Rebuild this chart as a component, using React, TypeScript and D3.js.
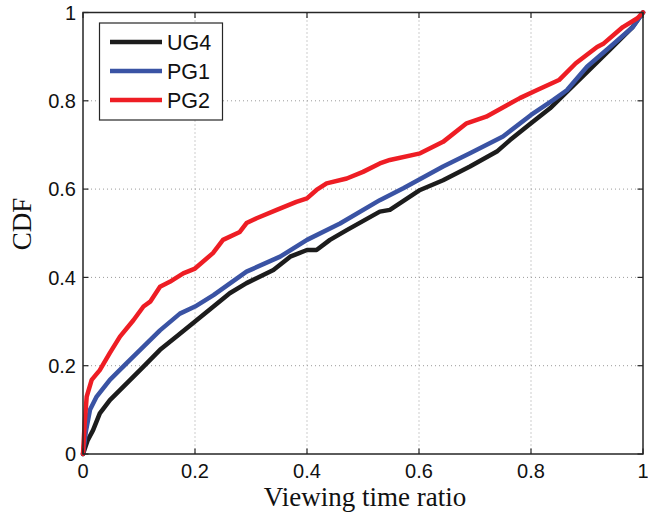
import React from "react";
import * as d3 from "d3";

const xTicks = [0, 0.2, 0.4, 0.6, 0.8, 1];
const yTicks = [0, 0.2, 0.4, 0.6, 0.8, 1];
const tickLabels = ["0", "0.2", "0.4", "0.6", "0.8", "1"];

const seriesNames = ["UG4", "PG1", "PG2"];
const seriesColors = ["#1c1c1c", "#3a53a4", "#ee1d24"];

const ug4X = [0, 0.008, 0.018, 0.03, 0.048, 0.078, 0.108, 0.1375, 0.167, 0.2, 0.233, 0.262, 0.292, 0.34, 0.37, 0.4, 0.417, 0.441, 0.471, 0.53, 0.548, 0.602, 0.643, 0.691, 0.739, 0.7625, 0.8, 0.834, 0.858, 0.9, 0.94, 0.98, 1];
const ug4Y = [0, 0.03, 0.054, 0.092, 0.122, 0.16, 0.198, 0.236, 0.266, 0.3, 0.334, 0.364, 0.387, 0.417, 0.447, 0.462, 0.462, 0.485, 0.507, 0.549, 0.553, 0.598, 0.62, 0.651, 0.685, 0.711, 0.749, 0.783, 0.813, 0.865, 0.915, 0.965, 1];

const pg1X = [0, 0.005, 0.0125, 0.0244, 0.048, 0.078, 0.108, 0.1375, 0.173, 0.2, 0.233, 0.292, 0.352, 0.4, 0.459, 0.53, 0.572, 0.643, 0.691, 0.75, 0.8, 0.84, 0.864, 0.9, 0.941, 0.982, 1];
const pg1Y = [0, 0.05, 0.1, 0.13, 0.168, 0.206, 0.243, 0.28, 0.318, 0.334, 0.36, 0.413, 0.447, 0.485, 0.522, 0.575, 0.602, 0.651, 0.681, 0.719, 0.768, 0.802, 0.824, 0.877, 0.922, 0.967, 1];

const pg2X = [0, 0.003, 0.0066, 0.0155, 0.03, 0.048, 0.066, 0.09, 0.108, 0.12, 0.1375, 0.155, 0.179, 0.2, 0.232, 0.25, 0.28, 0.292, 0.31, 0.346, 0.381, 0.4, 0.417, 0.435, 0.471, 0.5, 0.53, 0.548, 0.602, 0.643, 0.685, 0.72, 0.757, 0.78, 0.81, 0.85, 0.88, 0.918, 0.93, 0.964, 0.99, 1];
const pg2Y = [0, 0.07, 0.13, 0.168, 0.19, 0.229, 0.266, 0.303, 0.334, 0.345, 0.379, 0.39, 0.409, 0.42, 0.455, 0.485, 0.503, 0.523, 0.534, 0.553, 0.571, 0.579, 0.598, 0.613, 0.624, 0.639, 0.658, 0.666, 0.681, 0.707, 0.749, 0.764, 0.79, 0.806, 0.824, 0.847, 0.885, 0.922, 0.93, 0.967, 0.987, 1];

const seriesX = [ug4X, pg1X, pg2X];
const seriesY = [ug4Y, pg1Y, pg2Y];

const W = 648, H = 518;
const L = 83, R = 643, T = 12.5, B = 454;

export default function App() {
  const x = d3.scaleLinear().domain([0, 1]).range([L, R]);
  const y = d3.scaleLinear().domain([0, 1]).range([B, T]);
  const line = d3.line<[number, number]>().x(d => x(d[0])).y(d => y(d[1]));
  const tickLen = 5.5;
  const axisColor = "#262626";
  const tickFont = "'Liberation Sans', Arial, sans-serif";
  const serif = "'Liberation Serif', 'Times New Roman', serif";

  return (
    <svg width={W} height={H} style={{ position: "absolute", left: 0, top: 0, background: "#fff" }}>
      <rect x={0} y={0} width={W} height={H} fill="#fff" />
      {/* grid */}
      {xTicks.slice(1, -1).map((t, i) => (
        <line key={"gx" + i} x1={x(t)} x2={x(t)} y1={T} y2={B} stroke="#9a9a9a" strokeWidth={1} strokeDasharray="1,3" />
      ))}
      {yTicks.slice(1, -1).map((t, i) => (
        <line key={"gy" + i} x1={L} x2={R} y1={y(t)} y2={y(t)} stroke="#9a9a9a" strokeWidth={1} strokeDasharray="1,3" />
      ))}
      {/* series */}
      {seriesNames.map((n, i) => (
        <path key={n} d={line(seriesX[i].map((v, j) => [v, seriesY[i][j]] as [number, number])) || ""}
          fill="none" stroke={seriesColors[i]} strokeWidth={4.5} strokeLinejoin="round" strokeLinecap="round" />
      ))}
      {/* box */}
      <rect x={L} y={T} width={R - L} height={B - T} fill="none" stroke={axisColor} strokeWidth={1.5} />
      {/* ticks */}
      {xTicks.map((t, i) => (
        <g key={"tx" + i}>
          <line x1={x(t)} x2={x(t)} y1={B} y2={B - tickLen} stroke={axisColor} strokeWidth={1.2} />
          <line x1={x(t)} x2={x(t)} y1={T} y2={T + tickLen} stroke={axisColor} strokeWidth={1.2} />
          <text x={x(t)} y={478} textAnchor="middle" fontFamily={tickFont} fontSize={20} fill="#111">{tickLabels[i]}</text>
        </g>
      ))}
      {yTicks.map((t, i) => (
        <g key={"ty" + i}>
          <line x1={L} x2={L + tickLen} y1={y(t)} y2={y(t)} stroke={axisColor} strokeWidth={1.2} />
          <line x1={R} x2={R - tickLen} y1={y(t)} y2={y(t)} stroke={axisColor} strokeWidth={1.2} />
          <text x={76} y={y(t)} dy="0.36em" textAnchor="end" fontFamily={tickFont} fontSize={20} fill="#111">{tickLabels[i]}</text>
        </g>
      ))}
      {/* axis labels */}
      <text x={365} y={506} textAnchor="middle" fontFamily={serif} fontSize={27} fill="#111">Viewing time ratio</text>
      <text transform="translate(31,224) rotate(-90)" textAnchor="middle" fontFamily={serif} fontSize={27} fill="#111">CDF</text>
      {/* legend */}
      <rect x={99.5} y={23} width={123} height={97} fill="#fff" stroke={axisColor} strokeWidth={1.2} />
      {seriesNames.map((n, i) => (
        <g key={"lg" + n}>
          <line x1={110} x2={162} y1={42 + i * 29} y2={42 + i * 29} stroke={seriesColors[i]} strokeWidth={4.5} />
          <text x={167} y={42 + i * 29} dy="0.36em" fontFamily={tickFont} fontSize={21.5} fill="#111">{n}</text>
        </g>
      ))}
    </svg>
  );
}
